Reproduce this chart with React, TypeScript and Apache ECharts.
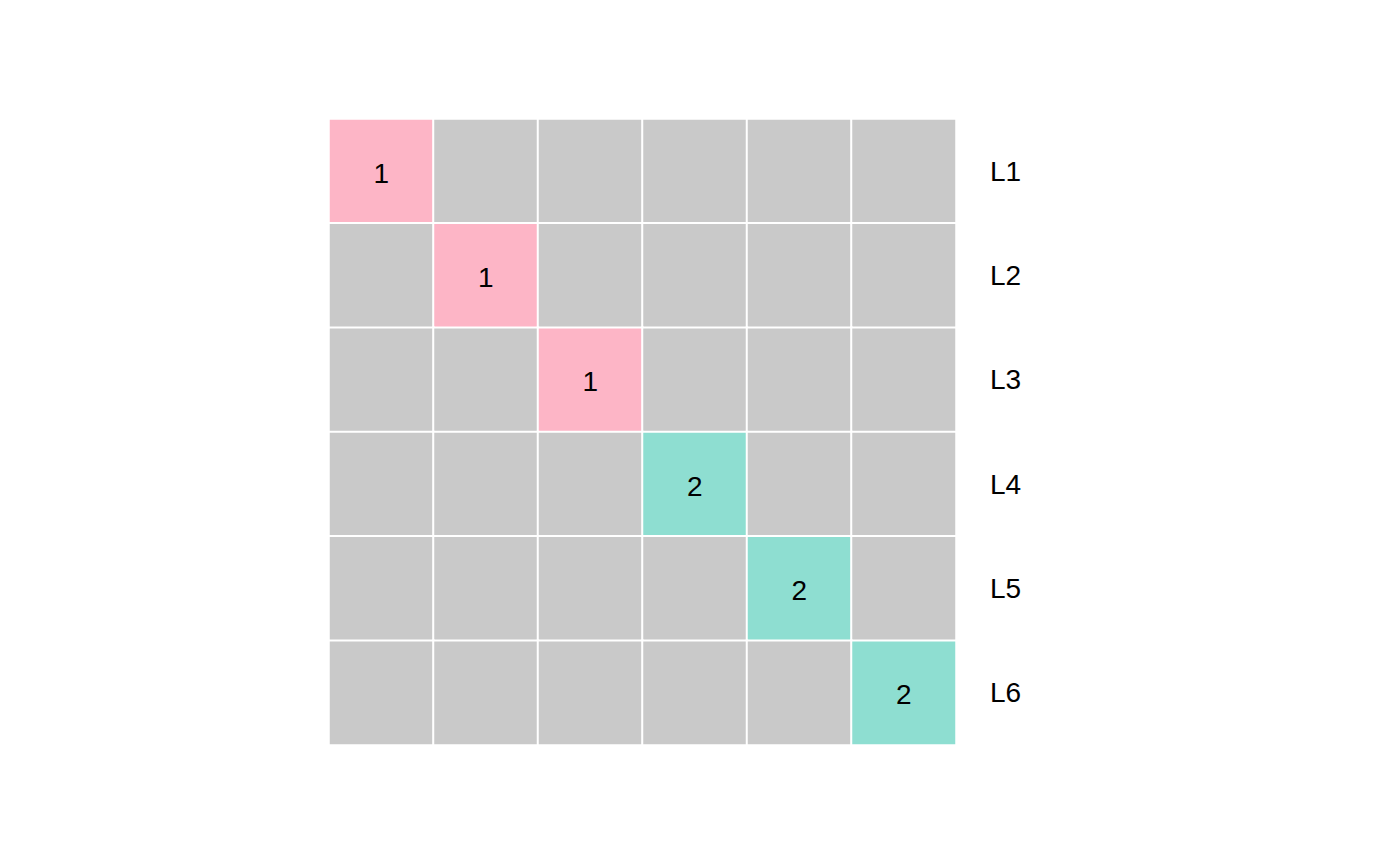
import React, { useEffect, useRef } from "react";
import * as echarts from "echarts";

const rowLabels = ["L1", "L2", "L3", "L4", "L5", "L6"];
const colLabels = ["C1", "C2", "C3", "C4", "C5", "C6"];
// matrix of cluster values; 0 = empty (grey)
const matrix = [
  [1, 0, 0, 0, 0, 0],
  [0, 1, 0, 0, 0, 0],
  [0, 0, 1, 0, 0, 0],
  [0, 0, 0, 2, 0, 0],
  [0, 0, 0, 0, 2, 0],
  [0, 0, 0, 0, 0, 2],
];
const groupColors = ["#C9C9C9", "#FDB5C6", "#8EDED1"];

export default function App() {
  const ref = useRef<HTMLDivElement>(null);
  useEffect(() => {
    const chart = echarts.init(ref.current!, null, { renderer: "svg" });
    const data: any[] = [];
    matrix.forEach((row, r) =>
      row.forEach((v, c) => {
        data.push({
          value: [c, r, v],
          label: { show: v !== 0 },
        });
      })
    );
    chart.setOption({
      animation: false,
      backgroundColor: "#ffffff",
      grid: { left: 329, top: 119, width: 627, height: 626 },
      visualMap: {
        type: "piecewise",
        show: false,
        dimension: 2,
        pieces: groupColors.map((col, i) => ({ value: i, color: col })),
      },
      xAxis: {
        type: "category",
        data: colLabels,
        axisLine: { show: false },
        axisTick: { show: false },
        axisLabel: { show: false },
        splitLine: { show: false },
      },
      yAxis: {
        type: "category",
        data: rowLabels,
        inverse: true,
        position: "right",
        axisLine: { show: false },
        axisTick: { show: false },
        axisLabel: {
          show: true,
          margin: 34,
          fontSize: 28,
          padding: [4, 0, 0, 0],
          color: "#000",
          fontFamily: "Liberation Sans, Arial, sans-serif",
        },
        splitLine: { show: false },
      },
      series: [
        {
          type: "heatmap",
          data,
          itemStyle: { borderColor: "#ffffff", borderWidth: 2 },
          label: {
            show: true,
            fontSize: 28,
            offset: [0, 2],
            color: "#000",
            fontFamily: "Liberation Sans, Arial, sans-serif",
            formatter: (p: any) => String(p.value[2]),
          },
          emphasis: { disabled: true },
        },
      ],
    });
    return () => chart.dispose();
  }, []);
  return (
    <div
      ref={ref}
      style={{ position: "fixed", left: 0, top: 0, width: 1400, height: 865 }}
    />
  );
}
